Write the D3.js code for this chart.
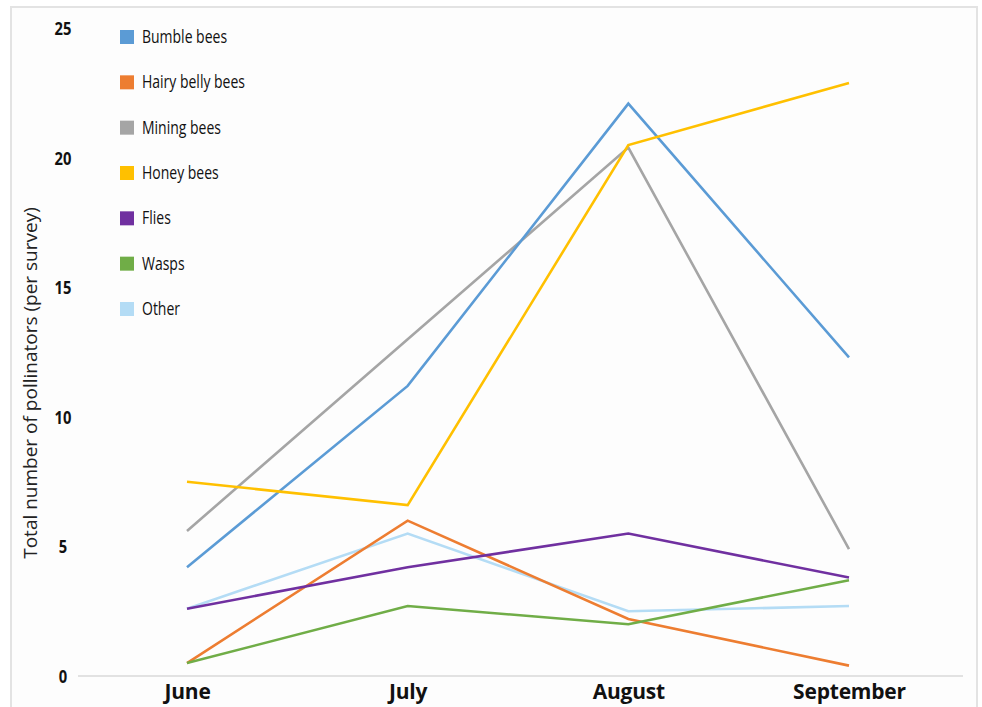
<!DOCTYPE html>
<html>
<head>
<meta charset="utf-8">
<script src="https://cdn.jsdelivr.net/npm/d3@7"></script>
<style>
  html, body { margin: 0; padding: 0; background: #ffffff; }
  svg { display: block; }
</style>
</head>
<body>
<svg id="chart" width="982" height="707"></svg>
<script>
// ---- Data ----
const months = ["June", "July", "August", "September"];
const seriesNames = ["Bumble bees", "Hairy belly bees", "Mining bees", "Honey bees", "Flies", "Wasps", "Other"];
const bumbleBees   = [4.2, 11.2, 22.1, 12.3];
const hairyBelly   = [0.5, 6.0, 2.2, 0.4];
const miningBees   = [5.6, 13.0, 20.4, 4.9];
const honeyBees    = [7.5, 6.6, 20.5, 22.9];
const flies        = [2.6, 4.2, 5.5, 3.8];
const wasps        = [0.5, 2.7, 2.0, 3.7];
const other        = [2.6, 5.5, 2.5, 2.7];
const yTicks = [0, 5, 10, 15, 20, 25];
const yTitle = "Total number of pollinators (per survey)";

const seriesValues = [bumbleBees, hairyBelly, miningBees, honeyBees, flies, wasps, other];
const colors = ["#5b9bd5", "#ed7d31", "#a5a5a5", "#ffc000", "#7030a0", "#70ad47", "#b4dcf5"];
const drawOrder = [6, 2, 0, 3, 1, 5, 4];

const svg = d3.select("#chart");

// frame
svg.append("rect")
  .attr("x", 11).attr("y", 7).attr("width", 966).attr("height", 702)
  .attr("fill", "#fdfdfd").attr("stroke", "#e3e3e3").attr("stroke-width", 2);

const x = d3.scalePoint().domain(months).range([187, 849]);
const y = d3.scaleLinear().domain([0, 25]).range([676, 28.5]);

// baseline
svg.append("line")
  .attr("x1", 78).attr("x2", 963)
  .attr("y1", y(0)).attr("y2", y(0))
  .attr("stroke", "#e2e2e2").attr("stroke-width", 2);

// y tick labels (condensed bold look via horizontal scale)
const yAxis = d3.axisLeft(y).tickValues(yTicks).tickSize(0).tickPadding(0).tickFormat(d3.format("d"));
const gy = svg.append("g").attr("transform", "translate(63,0)").call(yAxis);
gy.select(".domain").remove();
gy.selectAll(".tick text")
  .attr("x", 0)
  .attr("y", 0)
  .attr("text-anchor", "middle")
  .attr("dy", "0.36em")
  .attr("transform", "scale(0.82,1)")
  .style("font-family", "'Open Sans', sans-serif")
  .style("font-weight", "bold")
  .style("font-size", "18px")
  .attr("fill", "#111");

// x tick labels
const xAxis = d3.axisBottom(x).tickSize(0).tickPadding(0);
const gx = svg.append("g").attr("transform", "translate(0,692)").call(xAxis);
gx.select(".domain").remove();
gx.selectAll("text")
  .attr("y", 0)
  .attr("dy", "0.35em")
  .style("font-family", "'Open Sans', sans-serif")
  .style("font-weight", "bold")
  .style("font-size", "21px")
  .style("letter-spacing", "-0.2px")
  .attr("fill", "#111");

// y title
svg.append("text")
  .attr("transform", "translate(30,383) rotate(-90)")
  .attr("text-anchor", "middle")
  .attr("dy", "0.35em")
  .style("font-family", "'Open Sans', sans-serif")
  .style("font-size", "19px")
  .attr("fill", "#222")
  .text(yTitle);

// lines
const line = d3.line()
  .x((d, i) => x(months[i]))
  .y(d => y(d));

svg.append("g").selectAll("path")
  .data(drawOrder)
  .join("path")
  .attr("d", k => line(seriesValues[k]))
  .attr("fill", "none")
  .attr("stroke", k => colors[k])
  .attr("stroke-width", 2.6)
  .attr("stroke-linejoin", "miter");

// legend
const legend = svg.append("g");
const legY = d3.scalePoint().domain(seriesNames).range([37, 309]);
const items = legend.selectAll("g")
  .data(seriesNames)
  .join("g")
  .attr("transform", d => `translate(120,${legY(d)})`);
items.append("rect")
  .attr("x", 0).attr("y", -7).attr("width", 14).attr("height", 14)
  .attr("fill", (d, i) => colors[i]);
items.append("text")
  .attr("transform", "translate(22,0) scale(0.8,1)")
  .attr("dy", "0.35em")
  .style("font-family", "'Open Sans', sans-serif")
  .style("font-size", "17.5px")
  .attr("fill", "#111")
  .text(d => d);
</script>
</body>
</html>
